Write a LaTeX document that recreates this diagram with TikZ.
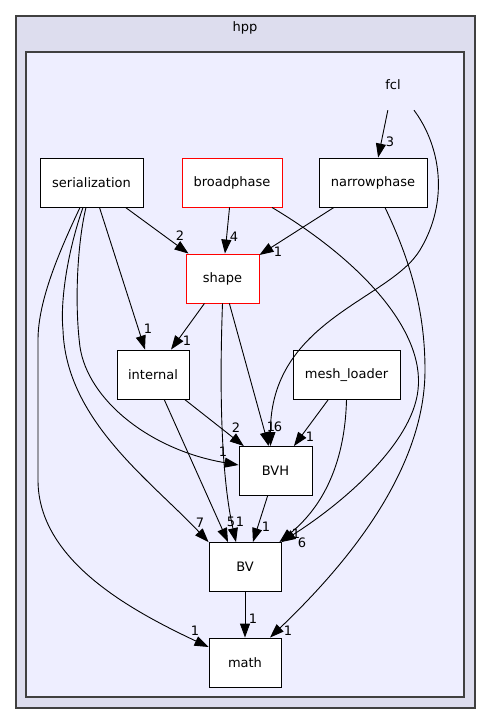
\documentclass[tikz,border=0pt]{standalone}
\usepackage{fontspec}
\setmainfont{DejaVu Sans}
\usetikzlibrary{arrows.meta, calc}
\definecolor{dirouter}{HTML}{DDDDEE}
\definecolor{dirinner}{HTML}{EEEEFF}
\definecolor{dirframe}{HTML}{404040}
\definecolor{dirred}{HTML}{FF0000}

\tikzset{
  dirbox/.style={draw=black, fill=white, line width=0.9pt, minimum height=49pt, inner sep=0pt, font=\fontsize{13}{15}\selectfont},
  redbox/.style={dirbox, draw=dirred},
  dep/.style={-{Triangle[length=14pt,width=10pt]}, line width=0.9pt, black},
  cnt/.style={inner sep=0pt, font=\fontsize{13}{15}\selectfont},
}

\begin{document}
\begin{tikzpicture}[x=1pt, y=-1pt]
  \useasboundingbox (0,0) rectangle (491,724);
  % clusters
  \draw[fill=dirouter, draw=dirframe, line width=1.3pt] (16,16) rectangle (475,708);
  \node[cnt] (hpp) at (245,28) {hpp};
  \draw[fill=dirinner, draw=dirframe, line width=1.3pt] (26,52) rectangle (464,697);
  \node[cnt, minimum width=54pt, minimum height=50pt] (fcl) at (393,85) {fcl};

  % directories
  \node[dirbox, minimum width=103pt] (ser) at (91.5,182.5) {serialization};
  \node[redbox, minimum width=100pt] (broad) at (232,182.5) {broadphase};
  \node[dirbox, minimum width=108pt] (narrow) at (373,182.5) {narrowphase};
  \node[redbox, minimum width=73pt] (shape) at (222.5,278.5) {shape};
  \node[dirbox, minimum width=72pt] (int) at (153,374.5) {internal};
  \node[dirbox, minimum width=107pt] (mesh) at (346.5,375) {mesh\_loader};
  \node[dirbox, minimum width=73pt] (bvh) at (275.5,471) {BVH};
  \node[dirbox, minimum width=72pt] (bv) at (245,567) {BV};
  \node[dirbox, minimum width=72pt] (math) at (245,662.5) {math};

  % dependencies
  \draw[dep] (fcl) -- (narrow);
  \draw[dep] ([xshift=21pt]fcl.south) .. controls (440,145) and (450,200) .. (420,250)
    .. controls (390,300) and (270,320) .. ([xshift=-5pt]bvh.north);
  \draw[dep] (ser) -- (shape);
  \draw[dep] (broad) -- (shape);
  \draw[dep] (narrow) -- (shape);
  \draw[dep] (ser) -- (int);
  \draw[dep] (shape) -- (int);
  \draw[dep] (shape) -- (bvh);
  \draw[dep] (int) -- (bvh);
  \draw[dep] (mesh) -- (bvh);
  \draw[dep] (bvh) -- (bv);
  \draw[dep] (bv) -- (math);
  \draw[dep] (int) -- ([xshift=-17pt]bv.north);
  \draw[dep] (shape.south) .. controls (219,400) and (222,480) .. ([xshift=-9pt]bv.north);
  \draw[dep] (mesh.south) .. controls (345,460) and (325,505) .. ([xshift=-2pt]bv.north east);
  \draw[dep] ([xshift=40pt]broad.south) .. controls (360,260) and (425,330) .. (418,390)
    .. controls (412,445) and (340,505) .. (bv.north east);
  \draw[dep] ([xshift=12pt]narrow.south) .. controls (410,260) and (425,310) .. (425,370)
    .. controls (425,480) and (330,580) .. ([xshift=25pt]math.north);
  \draw[dep] ([xshift=-5.5pt]ser.south) .. controls (78,240) and (74,300) .. (80,347)
    .. controls (88,400) and (150,450) .. ([yshift=6pt]bvh.west);
  \draw[dep] ([xshift=-8.5pt]ser.south) .. controls (68,250) and (60,300) .. (63,330)
    .. controls (66,420) and (150,480) .. (bv.north west);
  \draw[dep] ([xshift=-11.5pt]ser.south) .. controls (60,250) and (38,300) .. (38,340)
    -- (38,480) .. controls (38,560) and (130,610) .. ([yshift=15.5pt]math.west);

  % counts
  \node[cnt] (c-fcl-narrow) at (390,142) {3};
  \node[cnt] (c-ser-shape) at (180,236) {2};
  \node[cnt] (c-broad-shape) at (234,237) {4};
  \node[cnt] (c-narrow-shape) at (278,252) {1};
  \node[cnt] (c-ser-int) at (148,329) {1};
  \node[cnt] (c-shape-int) at (187,341) {1};
  \node[cnt] (c-int-bvh) at (236,428) {2};
  \node[cnt] (c-shape-bvh) at (271,427) {1};
  \node[cnt] (c-fcl-bvh) at (278,427) {6};
  \node[cnt] (c-mesh-bvh) at (310,437) {1};
  \node[cnt] (c-ser-bvh) at (223,452) {1};
  \node[cnt] (c-ser-bv) at (200,523) {7};
  \node[cnt] (c-int-bv) at (231,522) {5};
  \node[cnt] (c-shape-bv) at (240,522) {1};
  \node[cnt] (c-bvh-bv) at (266,527) {1};
  \node[cnt] (c-mesh-bv) at (296,534) {1};
  \node[cnt] (c-broad-bv) at (302,543) {6};
  \node[cnt] (c-bv-math) at (253,619) {1};
  \node[cnt] (c-ser-math) at (195,631) {1};
  \node[cnt] (c-narrow-math) at (288,631) {1};
\end{tikzpicture}
\end{document}
